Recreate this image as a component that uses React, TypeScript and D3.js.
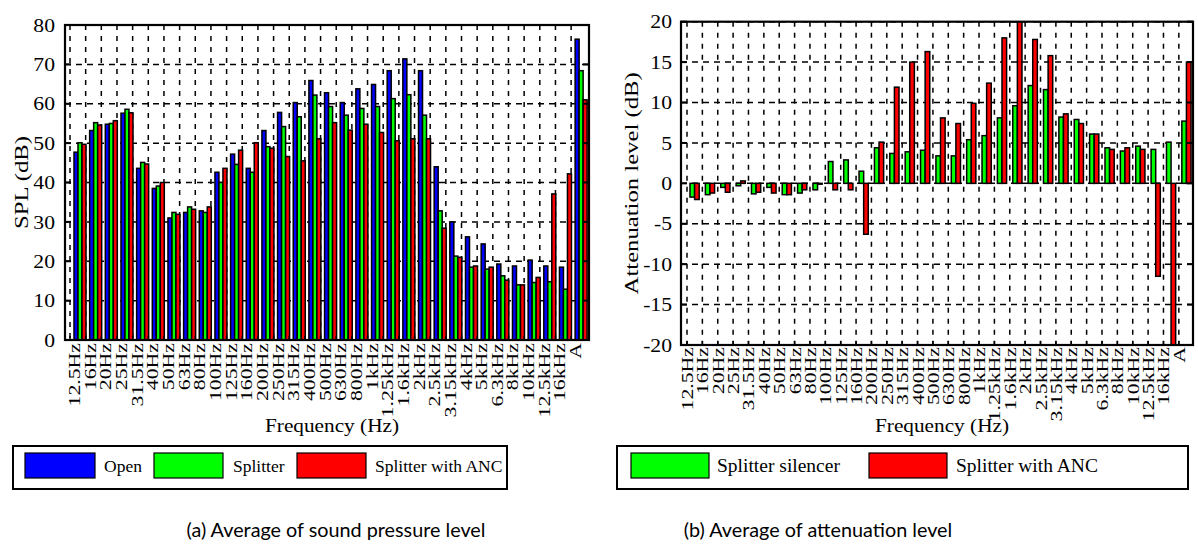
import React from 'react'
import * as d3 from 'd3'

const freqLabels = ['12.5Hz', '16Hz', '20Hz', '25Hz', '31.5Hz', '40Hz', '50Hz', '63Hz', '80Hz', '100Hz', '125Hz', '160Hz', '200Hz', '250Hz', '315Hz', '400Hz', '500Hz', '630Hz', '800Hz', '1kHz', '1.25kHz', '1.6kHz', '2kHz', '2.5kHz', '3.15kHz', '4kHz', '5kHz', '6.3kHz', '8kHz', '10kHz', '12.5kHz', '16kHz', 'A']

// SPL (dB)
const openSpl = [47.7, 53.2, 54.8, 57.6, 43.6, 38.5, 31.0, 32.4, 32.8, 42.6, 47.2, 43.6, 53.2, 57.8, 60.3, 65.9, 62.8, 60.3, 63.8, 64.9, 68.4, 71.4, 68.4, 44.0, 30.0, 26.2, 24.4, 19.3, 18.8, 20.3, 18.8, 18.5, 76.4]
const splitterSpl = [50.1, 55.2, 55.0, 58.6, 45.1, 39.1, 32.4, 33.8, 32.4, 40.0, 44.6, 42.6, 49.1, 54.2, 56.7, 62.2, 59.3, 57.1, 58.8, 59.3, 61.3, 62.3, 57.1, 32.8, 21.3, 18.5, 18.0, 16.3, 14.0, 14.6, 14.8, 12.9, 68.4]
const ancSpl = [49.7, 54.6, 55.7, 57.7, 44.7, 40.0, 31.9, 33.2, 33.8, 43.6, 48.2, 50.1, 48.7, 46.6, 45.5, 51.1, 55.2, 53.3, 54.8, 52.7, 50.6, 51.1, 51.1, 28.4, 21.0, 18.8, 18.5, 15.2, 14.0, 15.9, 37.1, 42.2, 61.0]

// attenuation (dB)
const silencerAtt = [-1.7, -1.4, -0.5, -0.3, -1.3, -0.5, -1.4, -1.2, -0.8, 2.7, 2.9, 1.5, 4.4, 3.7, 3.9, 4.1, 3.4, 3.4, 5.4, 5.9, 8.1, 9.6, 12.1, 11.6, 8.2, 7.9, 6.1, 4.4, 4.0, 4.6, 4.2, 5.1, 7.7]
const ancAtt = [-2.0, -1.2, -1.1, 0.3, -1.1, -1.2, -1.4, -0.8, -0.1, -0.8, -0.8, -6.3, 5.1, 11.9, 15.0, 16.3, 8.1, 7.4, 9.9, 12.4, 18.0, 20.5, 17.8, 15.8, 8.6, 7.4, 6.1, 4.2, 4.4, 4.2, -11.5, -20.5, 15.0]

const splTicks = [0, 10, 20, 30, 40, 50, 60, 70, 80]
const attTicks = [-20, -15, -10, -5, 0, 5, 10, 15, 20]

const serif = 'Liberation Serif'

type Series = { name: string, color: string, values: number[] }

const Panel = ({ id, left, right, top, bottom, domain, ticks, series, bandStart, step, barOffset, barW, labelOffset, labelTop, yTitle, yTitleX, yLabelX }: any) => {
  const y = d3.scaleLinear().domain(domain).range([bottom, top])
  const x = d3.scaleBand().domain(freqLabels).range([bandStart, bandStart + step * freqLabels.length]).padding(0)
  const base = y(Math.max(domain[0], 0))

  return (
    <g>
      <defs>
        <clipPath id={`clip-${id}`}>
          <rect x={left} y={top} width={right - left} height={bottom - top} />
        </clipPath>
      </defs>
      {/* grid */}
      {ticks.map((t: number) => (
        <line key={'h' + t} x1={left} x2={right} y1={y(t)} y2={y(t)} stroke="#000" strokeWidth={1.5} strokeDasharray="6,5" />
      ))}
      {freqLabels.map((c) => (
        <line key={'v' + c} x1={x(c)} x2={x(c)} y1={top} y2={bottom} stroke="#000" strokeWidth={1.5} strokeDasharray="5,6" />
      ))}
      {/* bars */}
      <g clipPath={`url(#clip-${id})`}>
        {series.map((s: Series, j: number) => s.values.map((v, i) => {
          const bx = (x(freqLabels[i]) as number) + barOffset + j * barW
          const yv = y(v)
          return (
            <rect key={s.name + i} x={bx} y={Math.min(yv, base)} width={barW}
              height={Math.abs(base - yv)} fill={s.color} stroke="#000" strokeWidth={1.5} />
          )
        }))}
      </g>
      {/* ticks */}
      {ticks.map((t: number) => (
        <g key={'t' + t}>
          <line x1={left} x2={left + 6} y1={y(t)} y2={y(t)} stroke="#000" strokeWidth={2} />
          <line x1={right - 6} x2={right} y1={y(t)} y2={y(t)} stroke="#000" strokeWidth={2} />
          <text transform={`translate(${yLabelX},${y(t)}) scale(1.14,1)`} dy="0.35em" textAnchor="end"
            fontFamily={serif} fontSize={19}>{t}</text>
        </g>
      ))}
      {freqLabels.map((c) => (
        <g key={'xt' + c}>
          <line x1={x(c)} x2={x(c)} y1={bottom} y2={bottom - 4} stroke="#000" strokeWidth={1.5} />
          <text transform={`translate(${(x(c) as number) + labelOffset},${labelTop}) rotate(-90) scale(1.32,1)`}
            textAnchor="end" fontFamily={serif} fontSize={16.5}>{c}</text>
        </g>
      ))}
      <rect x={left} y={top} width={right - left} height={bottom - top} fill="none" stroke="#000" strokeWidth={2.2} />
      <text transform={`translate(${(left + right) / 2 + 5},432) scale(1.15,1)`} textAnchor="middle"
        fontFamily={serif} fontSize={18.5}>Frequency (Hz)</text>
      <text transform={`translate(${yTitleX},${(top + bottom) / 2}) rotate(-90) scale(1.3,1)`} textAnchor="middle"
        fontFamily={serif} fontSize={19}>{yTitle}</text>
    </g>
  )
}

const Legend = ({ x0, x1, items, fontSize }: any) => (
  <g>
    <rect x={x0} y={446} width={x1 - x0} height={43} fill="#fff" stroke="#000" strokeWidth={2} />
    {items.map((it: any) => (
      <g key={it.name}>
        <rect x={it.sx} y={453} width={it.sw} height={25} fill={it.color} stroke="#000" strokeWidth={1.2} />
        <text x={it.tx} y={472} fontFamily={serif} fontSize={fontSize}>{it.name}</text>
      </g>
    ))}
  </g>
)

export default function App() {
  const leftSeries: Series[] = [
    { name: 'Open', color: '#0000ff', values: openSpl },
    { name: 'Splitter', color: '#00ff00', values: splitterSpl },
    { name: 'Splitter with ANC', color: '#ff0000', values: ancSpl },
  ]
  const rightSeries: Series[] = [
    { name: 'Splitter silencer', color: '#00ff00', values: silencerAtt },
    { name: 'Splitter with ANC', color: '#ff0000', values: ancAtt },
  ]

  return (
    <svg width={1198} height={544} style={{ position: 'absolute', left: 0, top: 0, background: '#fff' }}>
      <Panel id="spl" left={65} right={589} top={25} bottom={340} domain={[0, 80]} ticks={splTicks}
        series={leftSeries} bandStart={70} step={15.66} barOffset={4} barW={4} labelOffset={10} labelTop={343}
        yTitle="SPL (dB)" yTitleX={28} yLabelX={55} />
      <Panel id="att" left={681} right={1193} top={21.7} bottom={345} domain={[-20, 20]} ticks={attTicks}
        series={rightSeries} bandStart={687} step={15.37} barOffset={3} barW={4.6} labelOffset={6} labelTop={347}
        yTitle="Attenuation level (dB)" yTitleX={638} yLabelX={672} />
      <Legend x0={13} x1={507} fontSize={17.5} items={[
        { name: 'Open', color: '#0000ff', sx: 25, sw: 70, tx: 104 },
        { name: 'Splitter', color: '#00ff00', sx: 154, sw: 69, tx: 233 },
        { name: 'Splitter with ANC', color: '#ff0000', sx: 297, sw: 69, tx: 375 },
      ]} />
      <Legend x0={617} x1={1188} fontSize={19.5} items={[
        { name: 'Splitter silencer', color: '#00ff00', sx: 631, sw: 78, tx: 717 },
        { name: 'Splitter with ANC', color: '#ff0000', sx: 869, sw: 78, tx: 956 },
      ]} />
      <text x={336} y={537} textAnchor="middle" fontFamily="Lato" fontSize={19.8}>(a) Average of sound pressure level</text>
      <text x={818} y={537} textAnchor="middle" fontFamily="Lato" fontSize={19.8}>(b) Average of attenuation level</text>
    </svg>
  )
}
